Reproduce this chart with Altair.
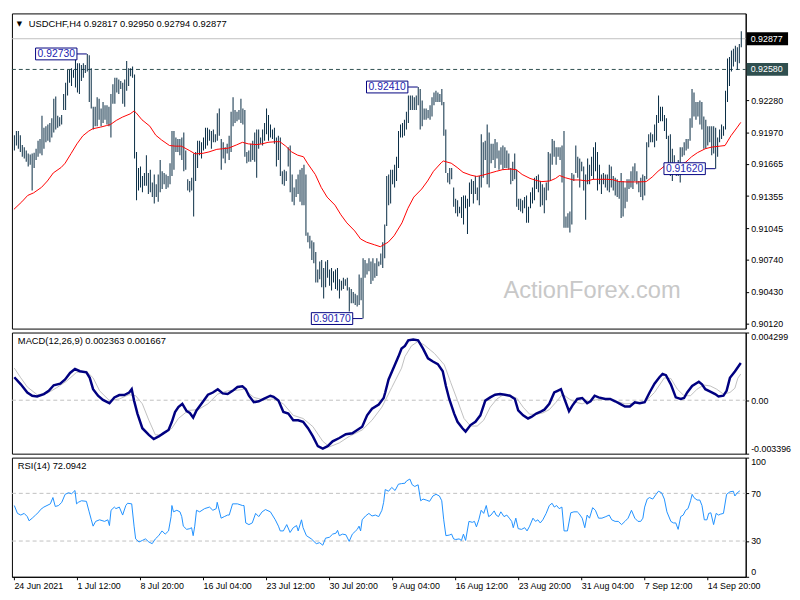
import json
import altair as alt
import pandas as pd

# ---------------- data (prices in points of 0.00001) ----------------
high_pts = [
91944,91984,91984,91944,91850,91828,91797,91766,91757,91766,91775,91813,91891,91906,92131,92015,92031,92047,92062,92109,
92296,92318,92131,92118,92140,92343,92452,92577,92577,92592,92577,92686,92639,92639,92623,92639,92623,92730,92717,92592,
92218,92218,92312,92296,92203,92265,92234,92234,92218,92343,92436,92499,92499,92483,92467,92452,92483,92661,92592,92592,
92608,92530,91782,91626,91641,91548,91579,91751,91579,91610,91486,91564,91470,91564,91704,91595,91579,91564,91548,91673,
91984,91984,91922,91906,91906,91922,91969,91797,91517,91501,91532,91766,91782,91891,91891,91875,91922,92015,92015,92000,
91984,92000,91953,92156,92203,91906,91875,91828,91860,91938,92171,92312,92187,92171,92187,92296,92203,92187,91782,91797,
91860,91891,91969,92000,92000,91922,92000,92062,92203,92140,92047,92000,92015,91922,91938,91922,91595,91610,91595,91828,
91844,91564,91439,91517,91564,91610,91626,91657,91564,91002,90971,90925,90909,90815,90644,90722,90737,90660,90722,90737,
90644,90660,90628,90644,90660,90550,90535,90566,90550,90566,90473,90457,90426,90410,90395,90597,90566,90753,90737,90706,
90753,90722,90753,90706,90753,90722,90800,90909,91080,91548,91564,91610,91610,91657,91735,91984,92047,92062,92093,92171,
92327,92327,92327,92312,92327,92410,92390,92280,92203,92203,92187,92234,92312,92358,92374,92358,92343,92390,92265,92000,
91579,91626,91626,91439,91330,91314,91252,91345,91361,91361,91330,91486,91517,91501,91548,91439,91548,91953,91875,91891,
92047,91969,91860,91860,91906,91875,91797,91828,91844,91828,91797,91766,91626,91688,91766,91610,91330,91330,91314,91345,
91361,91252,91392,91439,91532,91548,91564,91501,91470,91439,91486,91782,91766,91906,91891,91828,91828,91828,91844,91984,
91158,91190,91205,91579,91564,91844,91735,91719,91688,91641,91564,91719,91657,91735,91828,91875,91782,91657,91564,91579,
91564,91564,91657,91641,91548,91532,91517,91501,91579,91501,91439,91517,91517,91595,91641,91673,91595,91501,91532,91564,
91548,91875,91953,91969,91953,92047,92140,92327,92218,92218,92140,92109,91938,91953,91813,91751,91673,91704,91828,91828,
91875,91906,91906,92109,92390,92358,92265,92265,92280,92265,92125,92093,92031,92031,92031,92031,92015,91922,92000,92047,
92031,92374,92686,92701,92764,92779,92810,92795,92826,92950]
low_pts = [
91797,91844,91813,91782,91735,91719,91688,91641,91657,91408,91626,91704,91735,91766,91751,91813,91875,91891,91875,91922,
91969,92000,92015,92031,92047,92187,92187,92327,92452,92421,92499,92405,92358,92343,92467,92499,92545,92561,92265,92203,
92000,92031,92031,92093,92031,92062,92093,92047,92031,91922,92249,92249,92358,92343,92390,92249,92218,92374,92421,92514,
92499,91719,91314,91408,91439,91392,91454,91454,91376,91392,91345,91283,91345,91299,91392,91423,91470,91423,91439,91470,
91548,91610,91782,91782,91751,91704,91595,91610,91408,91392,91408,91158,91501,91626,91751,91719,91797,91813,91844,91891,
91813,91875,91875,91891,91938,91610,91719,91673,91766,91704,91782,92031,92062,92078,92093,92062,92047,91735,91673,91688,
91688,91704,91688,91532,91813,91860,91844,91891,91953,91891,91922,91906,91860,91641,91704,91548,91470,91454,91501,91641,
91392,91299,91267,91345,91376,91299,91267,91267,90971,90909,90847,90737,90706,90519,90519,90550,90473,90363,90473,90566,
90488,90441,90519,90457,90441,90363,90441,90457,90488,90441,90239,90317,90317,90301,90286,90301,90348,90170,90566,90597,
90628,90504,90535,90566,90582,90675,90691,90660,90753,91065,91267,91283,91470,91439,91501,91626,91922,91922,91938,92000,
92062,92187,92187,92187,92187,92234,92000,92031,92093,92093,92109,92093,92125,92234,92265,92265,92265,92234,91938,91579,
91486,91470,91517,91252,91190,91158,91190,91143,91080,91236,90987,91252,91376,91283,91376,91314,91267,91439,91532,91704,
91470,91439,91673,91704,91626,91719,91610,91657,91610,91626,91626,91610,91470,91501,91517,91252,91221,91205,91190,91236,
91096,91096,91236,91283,91314,91423,91392,91252,91267,91190,91314,91408,91501,91657,91735,91657,91735,91704,91486,91049,
91049,91049,91002,91080,91501,91579,91532,91439,91595,91408,91127,91470,91470,91548,91517,91595,91408,91470,91376,91470,
91439,91408,91392,91439,91408,91361,91345,91330,91143,91158,91236,91299,91423,91439,91423,91501,91470,91392,91345,91314,
91361,91517,91828,91875,91875,91828,91891,92062,92078,92078,91984,91906,91657,91548,91501,91657,91548,91548,91486,91735,
91751,91797,91813,91891,92015,92125,92093,92125,92047,92000,91813,91813,91844,91875,91751,91766,91620,91735,91875,91906,
91938,92000,92265,92421,92561,92608,92654,92577,92639,92794]

ma_bar = [0,4,7,10,14,17,20,24,26,29,32,35,38,40,44,47,49,52,55,59,61,62,65,69,72,75,79,82,85,89,92,96,99,103,106,109,
          113,116,119,123,126,129,133,135,138,141,144,147,149,153,156,159,163,166,169,173,176,179,183,186,190,193,197,200,
          203,207,210,213,217,218,222,225,228,232,235,238,242,245,248,252,255,258,262,265,268,272,275,277,280,284,287,291,
          294,297,301,304,307,311,314,317,321,324,327,331,334,337,341,344,347,351,354,357,361,364,367,369]
ma_pts = [91227,91299,91361,91386,91439,91501,91579,91632,91673,91766,91860,91938,91984,92006,92022,92037,92047,92087,
          92118,92150,92178,92162,92093,92031,91944,91897,91844,91838,91838,91797,91763,91769,91782,91807,91813,91819,
          91850,91875,91860,91853,91860,91875,91881,91881,91838,91782,91751,91735,91673,91564,91439,91345,91267,91174,
          91096,91018,90940,90909,90884,90865,90909,90971,91096,91236,91345,91423,91501,91595,91679,91694,91673,91632,
          91585,91557,91545,91557,91579,91595,91610,91617,91610,91564,91526,91507,91495,91501,91526,91554,91532,91511,
          91511,91501,91517,91517,91517,91514,91495,91492,91492,91492,91495,91539,91595,91657,91663,91657,91682,91735,
          91775,91813,91828,91835,91844,91938,92015,92068]

# MACD main / signal in units of 0.00001
macd_bar = [0.2,3.5,6.8,9.3,11.8,15.2,17.7,20.2,23.5,26,28.5,31,33.5,36.8,38.5,40.2,42.7,45.2,48.5,51,53.5,56,58.5,59.8,
            61,62.7,65.2,68.5,71,73.5,76,78.5,80.2,81.8,83.5,85.5,87.7,89.3,91,92.7,95.2,98.5,101,103.5,106,108.5,111,
            113.5,116,117.7,119.3,121.8,124.3,126.8,130.2,131.8,134.3,136.8,139.3,141.8,144.3,146.8,149.3,151.8,154.3,
            156.8,159.3,161.8,165.2,168.5,171.8,174.3,176.8,179.3,181.8,185.2,187.7,188.5,190.2,192.7,195.2,196.8,198.5,
            200.2,202.7,205.2,207.7,210.2,212.7,215.2,217.7,219.3,221,223.5,225.2,227.7,229.3,231.8,234.3,236.8,239.3,
            241.8,244.3,246.8,249.3,251.8,254.3,256,258.5,261,262.7,265.2,267.7,269.3,271.8,274.3,276,277.7,279.8,281.8,
            283.5,286,288.5,291,292.7,294.8,296.8,300.2,302.7,305.2,307.7,310.2,312.7,315.2,317.7,320.2,322.7,325.2,
            327.7,329.3,331,333.5,336,338.5,340.2,341.8,344.3,347.7,349.3,351,353.5,356,357.7,360.2,361.8,363.5,366,369]
macd_val = [146,101,49,28.5,24,39,59.5,94.7,105,132,173,198,184,177,142,70,28.5,1.6,-19,18,33,33,49,70,
            -2.6,-85,-178,-220,-247,-230,-209,-189,-137,-75,-44,-23,-69,-81,-110,-65,-23,35,49,70,43,39,59.5,
            84,88.5,70,28.5,-13,-6.7,8,28.5,22,-2.6,-75,-85,-127,-127,-137,-178,-230,-292,
            -307,-292,-261,-240,-216,-210,-189,-168,-96,-54,-27,14,49,132,204,277,328,345,
            380,386,380,328,266,246,229,184,90,8,-85,-137,-178,-199,-158,-137,-96,-2.6,
            18,35,39,35,28.5,8,-65,-96,-116,-106,-85,-71,-60,-23,49,59.5,70,-2.6,-69,
            -34,8,14,-19,-6.7,28.5,18,8,8,-6.7,-23,-40,-40,-13,-19,-13,49,105,
            146,167,159,101,18,8,14,49,90,117,101,70,55,39,24,28.5,59.5,142,183,236.3]
signal_bar = [0.2,3.5,6.8,11.8,16.8,21.8,26.8,31.8,36.8,40.2,43.5,48.5,53.5,58.5,61.8,65.2,68.5,71.8,75.2,80.2,83.5,
              88.5,93.5,98.5,103.5,108.5,113.5,116.8,121.8,126.8,131.8,136.8,141.8,146.8,151.8,156.8,160.2,165.2,
              170.2,176.8,181.8,186.8,191.8,196.8,198.5,201.8,205.2,208.5,213.5,218.5,221.8,225.2,228.5,231.8,235.2,
              238.5,241.8,245.2,248.5,251.8,255.2,258.5,261.8,265.2,268.5,271.8,275.2,278.5,281.8,285.2,288.5,291.8,
              295.2,300.2,305.2,310.2,315.2,320.2,325.2,330.2,333.5,336.8,340.2,343.5,346.8,350.2,353.5,356.8,360.2,
              363.5,366,367.5,369]
signal_val = [204,142,84,35,43,80,122,177,184,142,59.5,-2.6,8,35,28.5,-23,-127,-220,-220,-178,-116,
              -65,-60,-23,39,59.5,63.6,70,18,1.6,8,-23,-96,-116,-168,-261,-296,-271,
              -230,-189,-127,-44,80,204,277,345,374,349,297,225,111,-2.6,-116,-164,-164,
              -127,-44,8,35,28.5,14,-44,-89,-89,-81,-60,-13,39,8,-13,-23,-6.7,
              1.6,8,-2.6,-23,-19,-13,49,142,138,70,28.5,28.5,70,96.7,90.5,69.8,38.8,
              49,76,140,166.7]

rsi_bar = [0.2,1.8,3.5,5.2,6.8,7.7,9.3,11,12.7,13.5,15.2,16.8,18.5,19.8,21,22.7,24.3,26,27.7,29.3,31,31.8,32.7,34.3,
           36.8,38.2,39.3,40.2,41.5,43.5,46,47.7,48.5,49.3,51,51.8,53.5,55.2,56.8,57.7,59.8,61,61.8,63.5,65.2,66.8,
           68.5,70.2,71.8,73.5,75.2,76.8,78.5,79.8,80.2,81,82.7,84.3,85.2,86,87.7,89.3,90.2,91,91.8,92.7,94.3,96.8,
           99.3,101,102.7,103.2,105.2,106.8,108.5,109.3,111,113.5,116,116.8,117.7,119.3,121,122.7,124.3,126,127.7,
           130.2,132.7,134.3,135.2,136.8,138.5,140.2,141.8,143.5,144.3,146,146.8,148.5,151,153.5,155.2,156.8,158.2,
           160.2,161.8,163.5,164.3,165.2,166.8,168.5,170.2,171.8,173.5,174.3,175.2,176,176.8,178.5,180.2,181.8,183.5,
           185.2,186.8,187.7,188.5,190.2,191.8,193.5,195.2,196.8,198.5,199.3,201,202.2,203.5,205.2,206.5,207.7,209.3,
           211,212.7,214.3,216,217.2,218.2,219.3,221,222.2,223.2,224.3,226,227.2,228.2,229.3,231,232.7,233.8,234.8,
           236,237.2,238.5,239.8,241,242.2,243.8,244.8,246,247.2,248.8,250.2,251.5,252.7,253.5,254.8,256,257.7,259.3,
           260.5,261.8,263.5,264.8,266,267.2,268.5,270.2,271.8,273.2,274.3,275.5,276.8,278.2,279.3,281,282.7,284.3,
           286,286.8,288.5,289.8,291,292.2,293.8,295.2,296.8,298.5,300.5,302.2,303.5,305.2,306.8,308.5,310.2,311.8,
           313.5,315.2,316.8,318.2,319.3,320.2,321.5,322.7,324.3,326,327.2,328.8,330.2,331.5,333.5,334.8,336,337.2,
           338.5,339.8,341,342.2,343.5,344.3,345.2,346.8,348.2,349.3,350.5,351.8,352.7,353.8,355.2,356.5,357.7,358.8,
           360.2,361.8,363.5,365.2,366,367.2,368.5]
rsi_val = [59.8,53.2,51.8,53.2,50.5,47.0,49.2,51.8,54.5,56.4,58.5,59.8,61.2,66.5,59.0,59.8,62.5,69.2,70.5,69.7,72.4,61.2,62.5,63.8,
           63.3,54.5,47.8,42.5,46.5,47.8,46.5,47.8,43.0,55.8,58.5,57.2,58.5,51.8,59.8,61.7,61.2,42.5,31.8,29.2,30.5,31.8,
           29.2,27.8,31.8,34.5,38.5,35.8,38.5,50.5,59.8,54.5,55.8,54.5,50.5,42.5,39.8,40.4,41.2,34.5,42.5,55.8,54.5,57.2,
           58.5,55.8,57.2,62.5,49.2,50.5,51.8,51.8,61.2,61.2,59.8,59.8,45.2,43.8,45.2,53.2,50.5,54.5,56.4,
           54.5,47.8,42.5,38.5,38.5,43.8,37.2,41.2,43.0,38.5,47.8,41.2,34.5,31.8,27.8,28.6,26.5,32.4,
           33.2,35.8,36.6,39.0,34.5,35.8,35.3,29.7,35.8,38.5,39.8,42.5,38.5,47.8,51.0,53.2,51.0,51.8,
           50.5,55.8,62.5,73.2,71.8,75.0,72.4,77.7,78.2,78.5,80.4,82.0,77.2,75.8,77.2,63.8,65.2,64.4,
           63.3,67.8,69.2,67.8,63.8,47.8,34.5,35.0,35.8,31.8,31.3,31.8,30.5,35.8,30.5,46.5,45.7,46.5,41.9,
           47.8,55.8,53.2,59.8,50.5,51.8,55.3,51.8,50.5,54.5,50.5,51.8,49.2,46.5,41.2,49.2,40.4,39.8,41.2,
           38.5,42.5,49.2,46.5,47.8,45.2,47.8,53.2,59.8,61.7,58.5,59.8,57.2,58.5,38.5,38.5,53.7,54.5,
           54.5,53.2,49.2,41.2,51.8,49.2,58.0,55.8,49.2,49.2,50.5,51.8,47.8,46.5,46.5,43.8,46.5,49.2,
           55.8,49.2,46.5,46.5,49.2,58.5,65.2,66.5,65.2,69.2,71.8,70.5,65.2,54.5,46.5,45.2,45.2,39.8,
           50.5,51.8,55.8,57.2,63.8,69.2,66.5,64.4,64.4,59.8,47.8,47.8,53.2,53.7,43.8,53.2,51.8,52.6,
           53.2,69.2,71.3,71.8,67.8,70.5,72.1]

xtick_bars = [0, 32, 64, 96, 128, 160, 192, 224, 256, 288, 320, 352]
xtick_labels = ["24 Jun 2021", "1 Jul 12:00", "8 Jul 20:00", "16 Jul 04:00", "23 Jul 12:00", "30 Jul 20:00",
                "9 Aug 04:00", "16 Aug 12:00", "23 Aug 20:00", "31 Aug 04:00", "7 Sep 12:00", "14 Sep 20:00"]
price_ticks = [0.92280, 0.91970, 0.91665, 0.91355, 0.91045, 0.90740, 0.90430, 0.90120]
ann_bar = [37, 205, 177, 356]
ann_price = [0.92730, 0.92410, 0.90170, 0.91620]
ann_text = ["0.92730", "0.92410", "0.90170", "0.91620"]
last_price = 0.92877
level_price = 0.92580
header = "USDCHF,H4  0.92817 0.92950 0.92794 0.92877"
macd_title = "MACD(12,26,9) 0.002363 0.001667"
rsi_title = "RSI(14) 72.0942"

# ---------------- layout ----------------
W = 745
H1, H2, H3 = 320, 123, 121
XDOM = [-1, 371.5]
PDOM = [0.90073, 0.93122]
MDOM = [-0.003396, 0.004299]
FONT = "Liberation Sans"
BAR = "#062a42"
ANN = "#00007f"
ANN_TXT = "#2424b0"
px = (PDOM[1] - PDOM[0]) / H1  # price per pixel

xs = alt.Scale(domain=XDOM, nice=False, zero=False)
ps = alt.Scale(domain=PDOM, nice=False, zero=False)
X = alt.X("i:Q", scale=xs, axis=None)

price_df = pd.DataFrame({"i": list(range(len(high_pts))),
                         "high": [h / 1e5 for h in high_pts],
                         "low": [l / 1e5 for l in low_pts]})
ma_df = pd.DataFrame({"i": ma_bar, "v": [m / 1e5 for m in ma_pts]})

PA = alt.Axis(orient="right", values=price_ticks, format=".5f", title=None, grid=False)


def PY(field):
    return alt.Y(field, scale=ps, axis=PA, title=None)


watermark = alt.Chart(pd.DataFrame({"t": ["ActionForex.com"]})).mark_text(
    font=FONT, fontSize=24, color="#c8c8c8", align="center", baseline="middle"
).encode(text="t:N", x=alt.value(589), y=alt.value(282))

cur_line = alt.Chart(pd.DataFrame({"p": [last_price]})).mark_rule(color="#c0c0c0", strokeWidth=1).encode(
    y=PY("p:Q"), x=alt.value(0), x2=alt.value(W))
lvl_line = alt.Chart(pd.DataFrame({"p": [level_price]})).mark_rule(
    color="#2f4f4f", strokeWidth=1, strokeDash=[4, 3]).encode(
    y=PY("p:Q"), x=alt.value(0), x2=alt.value(W))

# each bar drawn as a 1-px wide rectangle from low to high
bars = alt.Chart(price_df).transform_calculate(
    xa="datum.i", xb="datum.i + 0.5"
).mark_rect(color=BAR, strokeWidth=0).encode(
    x=alt.X("xa:Q", scale=xs, axis=None), x2="xb:Q", y=PY("high:Q"), y2="low:Q")

ma = alt.Chart(ma_df).mark_line(color="#ff0000", strokeWidth=1).encode(x=X, y=PY("v:Q"))

ann_df = pd.DataFrame({"bar": ann_bar, "p": ann_price, "t": ann_text})
ann_base = alt.Chart(ann_df).transform_calculate(
    xl="datum.bar - 26", xr="datum.bar - 5", xm="datum.bar - 15.5",
    yl=f"datum.p - {6 * px}", yh=f"datum.p + {6 * px}")
ann_conn = ann_base.mark_rule(color=ANN, strokeWidth=1).encode(
    x=alt.X("xr:Q", scale=xs, axis=None), x2="bar:Q", y=PY("p:Q"))
ann_box = ann_base.mark_rect(fill="white", stroke=ANN, strokeWidth=1).encode(
    x=alt.X("xl:Q", scale=xs, axis=None), x2="xr:Q", y=PY("yl:Q"), y2="yh:Q")
ann_txt = ann_base.mark_text(font=FONT, fontSize=10.5, color=ANN_TXT, align="center", baseline="middle", dy=0.5).encode(
    x=alt.X("xm:Q", scale=xs, axis=None), y=PY("p:Q"), text="t:N")

tag_df = pd.DataFrame({"p": [level_price, last_price], "t": ["0.92580", "0.92877"],
                       "c": ["#2f4f4f", "#000000"]})
tag_base = alt.Chart(tag_df).transform_calculate(yl=f"datum.p - {6.5 * px}", yh=f"datum.p + {6.5 * px}")
tag_box = tag_base.mark_rect().encode(
    x=alt.value(W + 1), x2=alt.value(W + 43), y=PY("yl:Q"), y2="yh:Q",
    color=alt.Color("c:N", scale=None))
tag_txt = tag_base.mark_text(font=FONT, fontSize=9, color="white", align="left", baseline="middle").encode(
    x=alt.value(W + 5), y=PY("p:Q"), text="t:N")

tri = alt.Chart(pd.DataFrame({"t": ["\u25bc"]})).mark_text(
    font="DejaVu Sans", fontSize=7, color="black", align="left", baseline="middle").encode(
    text="t:N", x=alt.value(5), y=alt.value(11))
head = alt.Chart(pd.DataFrame({"t": [header]})).mark_text(
    font=FONT, fontSize=9.5, color="black", align="left", baseline="middle").encode(
    text="t:N", x=alt.value(17), y=alt.value(11))

price_chart = alt.layer(watermark, cur_line, lvl_line, bars, ma, ann_conn, ann_box, ann_txt,
                        tag_box, tag_txt, tri, head).properties(width=W, height=H1)

# ---------------- MACD ----------------
ms = alt.Scale(domain=MDOM, nice=False, zero=False)
macd_df = pd.DataFrame({"i": macd_bar, "v": [v / 1e5 for v in macd_val]})
sig_df = pd.DataFrame({"i": signal_bar, "v": [v / 1e5 for v in signal_val]})
MA_AX = alt.Axis(orient="right", values=[MDOM[1], 0, MDOM[0]], title=None, grid=False, labelFlush=True,
                 labelExpr="datum.value > 0.004 ? '0.004299' : (datum.value < -0.003 ? '-0.003396' : '0.00')")


def MY(field):
    return alt.Y(field, scale=ms, axis=MA_AX, title=None)


zero_line = alt.Chart(pd.DataFrame({"v": [0.0]})).mark_rule(color="#c0c0c0", strokeDash=[4, 3]).encode(
    y=MY("v:Q"), x=alt.value(0), x2=alt.value(W))
sig_line = alt.Chart(sig_df).mark_line(color="#c0c0c0", strokeWidth=1).encode(x=X, y=MY("v:Q"))
macd_line = alt.Chart(macd_df).mark_line(color="#000080", strokeWidth=2.5).encode(x=X, y=MY("v:Q"))
macd_lbl = alt.Chart(pd.DataFrame({"t": [macd_title]})).mark_text(
    font=FONT, fontSize=9.5, color="black", align="left", baseline="middle").encode(
    text="t:N", x=alt.value(6), y=alt.value(9))
macd_chart = alt.layer(zero_line, sig_line, macd_line, macd_lbl).properties(width=W, height=H2)

# ---------------- RSI ----------------
rs = alt.Scale(domain=[0, 100], nice=False, zero=False)
rsi_df = pd.DataFrame({"i": rsi_bar, "v": rsi_val})
RA = alt.Axis(orient="right", values=[100, 70, 30, 0], format="d", title=None, grid=False, labelFlush=True)


def RY(field):
    return alt.Y(field, scale=rs, axis=RA, title=None)


x_axis = alt.Axis(orient="bottom", values=xtick_bars, title=None, grid=False, labelAlign="left",
                  labelOverlap=False, labelFlush=False,
                  labelExpr=json.dumps(xtick_labels) + "[round(datum.value / 32)]")
lvl_df = pd.DataFrame({"v": [70, 30]})
rsi_lvls = alt.Chart(lvl_df).mark_rule(color="#c0c0c0", strokeDash=[4, 3]).encode(
    y=RY("v:Q"), x=alt.value(0), x2=alt.value(W))
rsi_line = alt.Chart(rsi_df).mark_line(color="#1e90ff", strokeWidth=1).encode(
    x=alt.X("i:Q", scale=xs, axis=x_axis, title=None), y=RY("v:Q"))
rsi_lbl = alt.Chart(pd.DataFrame({"t": [rsi_title]})).mark_text(
    font=FONT, fontSize=9.5, color="black", align="left", baseline="middle").encode(
    text="t:N", x=alt.value(6), y=alt.value(9))
rsi_chart = alt.layer(rsi_lvls, rsi_line, rsi_lbl).properties(width=W, height=H3)

chart = alt.vconcat(price_chart, macd_chart, rsi_chart, spacing=2).properties(
    padding=0, background="white"
).configure_view(stroke="black", strokeWidth=1).configure_axis(
    labelFont=FONT, labelFontSize=9, labelColor="black", tickColor="black", tickSize=3,
    labelPadding=2, domainColor="black", domainWidth=1, tickWidth=1
).configure_concat(spacing=2)

chart.save("out.html", embed_options={"renderer": "svg", "actions": False})
